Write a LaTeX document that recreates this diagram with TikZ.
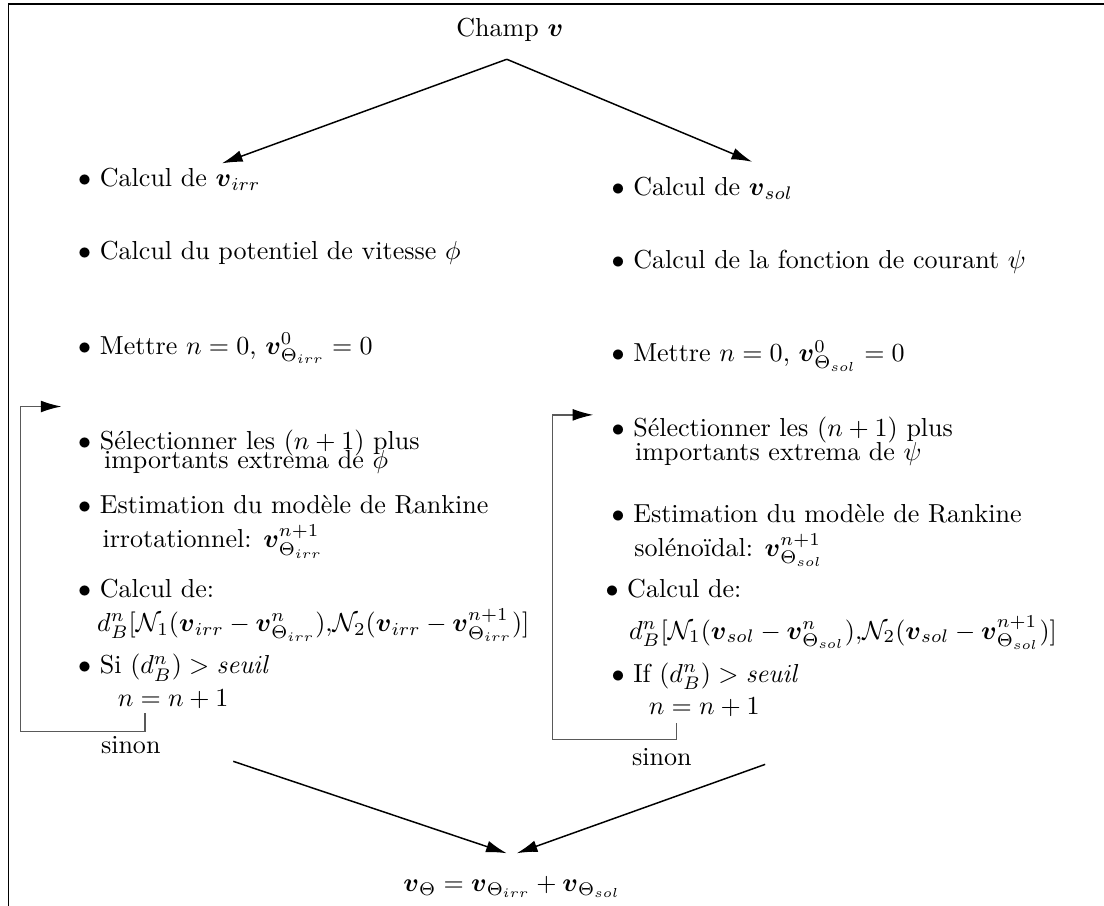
\documentclass[tikz,border=0pt]{standalone}
\usepackage{amssymb}
\usepackage{amsmath}
\usetikzlibrary{arrows.meta}

\begin{document}
\begin{tikzpicture}[x=1.026cm,y=1.026cm,line width=0.2mm,
    item/.style={anchor=base west,inner sep=0pt},
    flow/.style={-{Latex[length=2.8mm,width=1.6mm]}},
    retour/.style={black!65,-{Latex[length=2.8mm,width=1.6mm,color=black]}}]

    \useasboundingbox (0,0) rectangle (14.53,11.92);
    %cadre
    \draw (0.11,0) -- (0.11,11.87) -- (14.53,11.87);

    \node[anchor=base,inner sep=0pt] (champ) at (6.71,11.44) {Champ $\boldsymbol{v}$};
    \coordinate (split) at (6.67,11.14);
    \coordinate (tipirr) at (2.92,9.77);
    \coordinate (tipsol) at (9.90,9.79);
    \draw[flow] (split) -- (tipirr);
    \draw[flow] (split) -- (tipsol);

    % partie irrotationnelle
    \node[item] (irrA) at (1.02,9.46) {$\bullet$ Calcul de $\boldsymbol{v}_{irr}$};
    \node[item] (irrB) at (1.02,8.51) {$\bullet$ Calcul du potentiel de vitesse $\phi$};
    \node[item] (irrC) at (1.02,7.26) {$\bullet$ Mettre $n=0$, $\boldsymbol{v}^0_{\Theta_{irr}}=0$};
    \node[item] (irrD) at (1.02,6.01) {$\bullet$ S\'electionner les $(n+1)$ plus};
    \node[item] (irrDb) at (1.36,5.75) {importants extrema de $\phi$};
    \node[item] (irrE) at (1.02,5.16) {$\bullet$ Estimation du mod\`ele de Rankine};
    \node[item] (irrEb) at (1.34,4.71) {irrotationnel: $\boldsymbol{v}^{n+1}_{\Theta_{irr}}$};
    \node[item] (irrF) at (1.02,4.06) {$\bullet$ Calcul de:};
    \node[item] (irrFb) at (1.27,3.61) {$d^n_B[\mathcal{N}_1(\boldsymbol{v}_{irr}-\boldsymbol{v}^n_{\Theta_{irr}}){,}\mathcal{N}_2(\boldsymbol{v}_{irr}-\boldsymbol{v}^{n+1}_{\Theta_{irr}})]$};
    \node[item] (irrG) at (1.02,3.05) {$\bullet$ Si $(d^n_B)>\mathit{seuil}$};
    \node[item] (irrGb) at (1.54,2.62) {$n=n+1$};
    \node[item] (irrH) at (1.32,2.00) {sinon};

    % partie solenoidale
    \node[item] (solA) at (8.04,9.35) {$\bullet$ Calcul de $\boldsymbol{v}_{sol}$};
    \node[item] (solB) at (8.04,8.39) {$\bullet$ Calcul de la fonction de courant $\psi$};
    \node[item] (solC) at (8.04,7.16) {$\bullet$ Mettre $n=0$, $\boldsymbol{v}^0_{\Theta_{sol}}=0$};
    \node[item] (solD) at (8.04,6.18) {$\bullet$ S\'electionner les $(n+1)$ plus};
    \node[item] (solDb) at (8.35,5.86) {importants extrema de $\psi$};
    \node[item] (solE) at (8.04,5.04) {$\bullet$ Estimation du mod\`ele de Rankine};
    \node[item] (solEb) at (8.34,4.60) {sol\'eno\"idal: $\boldsymbol{v}^{n+1}_{\Theta_{sol}}$};
    \node[item] (solF) at (7.96,4.06) {$\bullet$ Calcul de:};
    \node[item] (solFb) at (8.27,3.51) {$d^n_B[\mathcal{N}_1(\boldsymbol{v}_{sol}-\boldsymbol{v}^n_{\Theta_{sol}}){,}\mathcal{N}_2(\boldsymbol{v}_{sol}-\boldsymbol{v}^{n+1}_{\Theta_{sol}})]$};
    \node[item] (solG) at (8.04,2.94) {$\bullet$ If $(d^n_B)>\mathit{seuil}$};
    \node[item] (solGb) at (8.53,2.51) {$n=n+1$};
    \node[item] (solH) at (8.31,1.84) {sinon};

    % boucles
    \coordinate (loopirrA) at (1.91,2.53);
    \coordinate (loopirrB) at (0.27,2.29);
    \coordinate (loopirrC) at (0.81,6.57);
    \draw[retour] (loopirrA) -- (loopirrA |- loopirrB) -- (loopirrB) -- (loopirrB |- loopirrC) -- (loopirrC);
    \coordinate (loopsolA) at (8.90,2.40);
    \coordinate (loopsolB) at (7.27,2.19);
    \coordinate (loopsolC) at (7.81,6.46);
    \draw[retour] (loopsolA) -- (loopsolA |- loopsolB) -- (loopsolB) -- (loopsolB |- loopsolC) -- (loopsolC);

    % recombinaison
    \node[anchor=base,inner sep=0pt] (total) at (6.74,0.19) {$\boldsymbol{v}_{\Theta}=\boldsymbol{v}_{\Theta_{irr}}+\boldsymbol{v}_{\Theta_{sol}}$};
    \coordinate (fromirr) at (3.07,1.90);
    \coordinate (fromsol) at (10.07,1.86);
    \coordinate (intoirr) at (6.67,0.69);
    \coordinate (intosol) at (6.80,0.69);
    \draw[flow] (fromirr) -- (intoirr);
    \draw[flow] (fromsol) -- (intosol);
\end{tikzpicture}
\end{document}
